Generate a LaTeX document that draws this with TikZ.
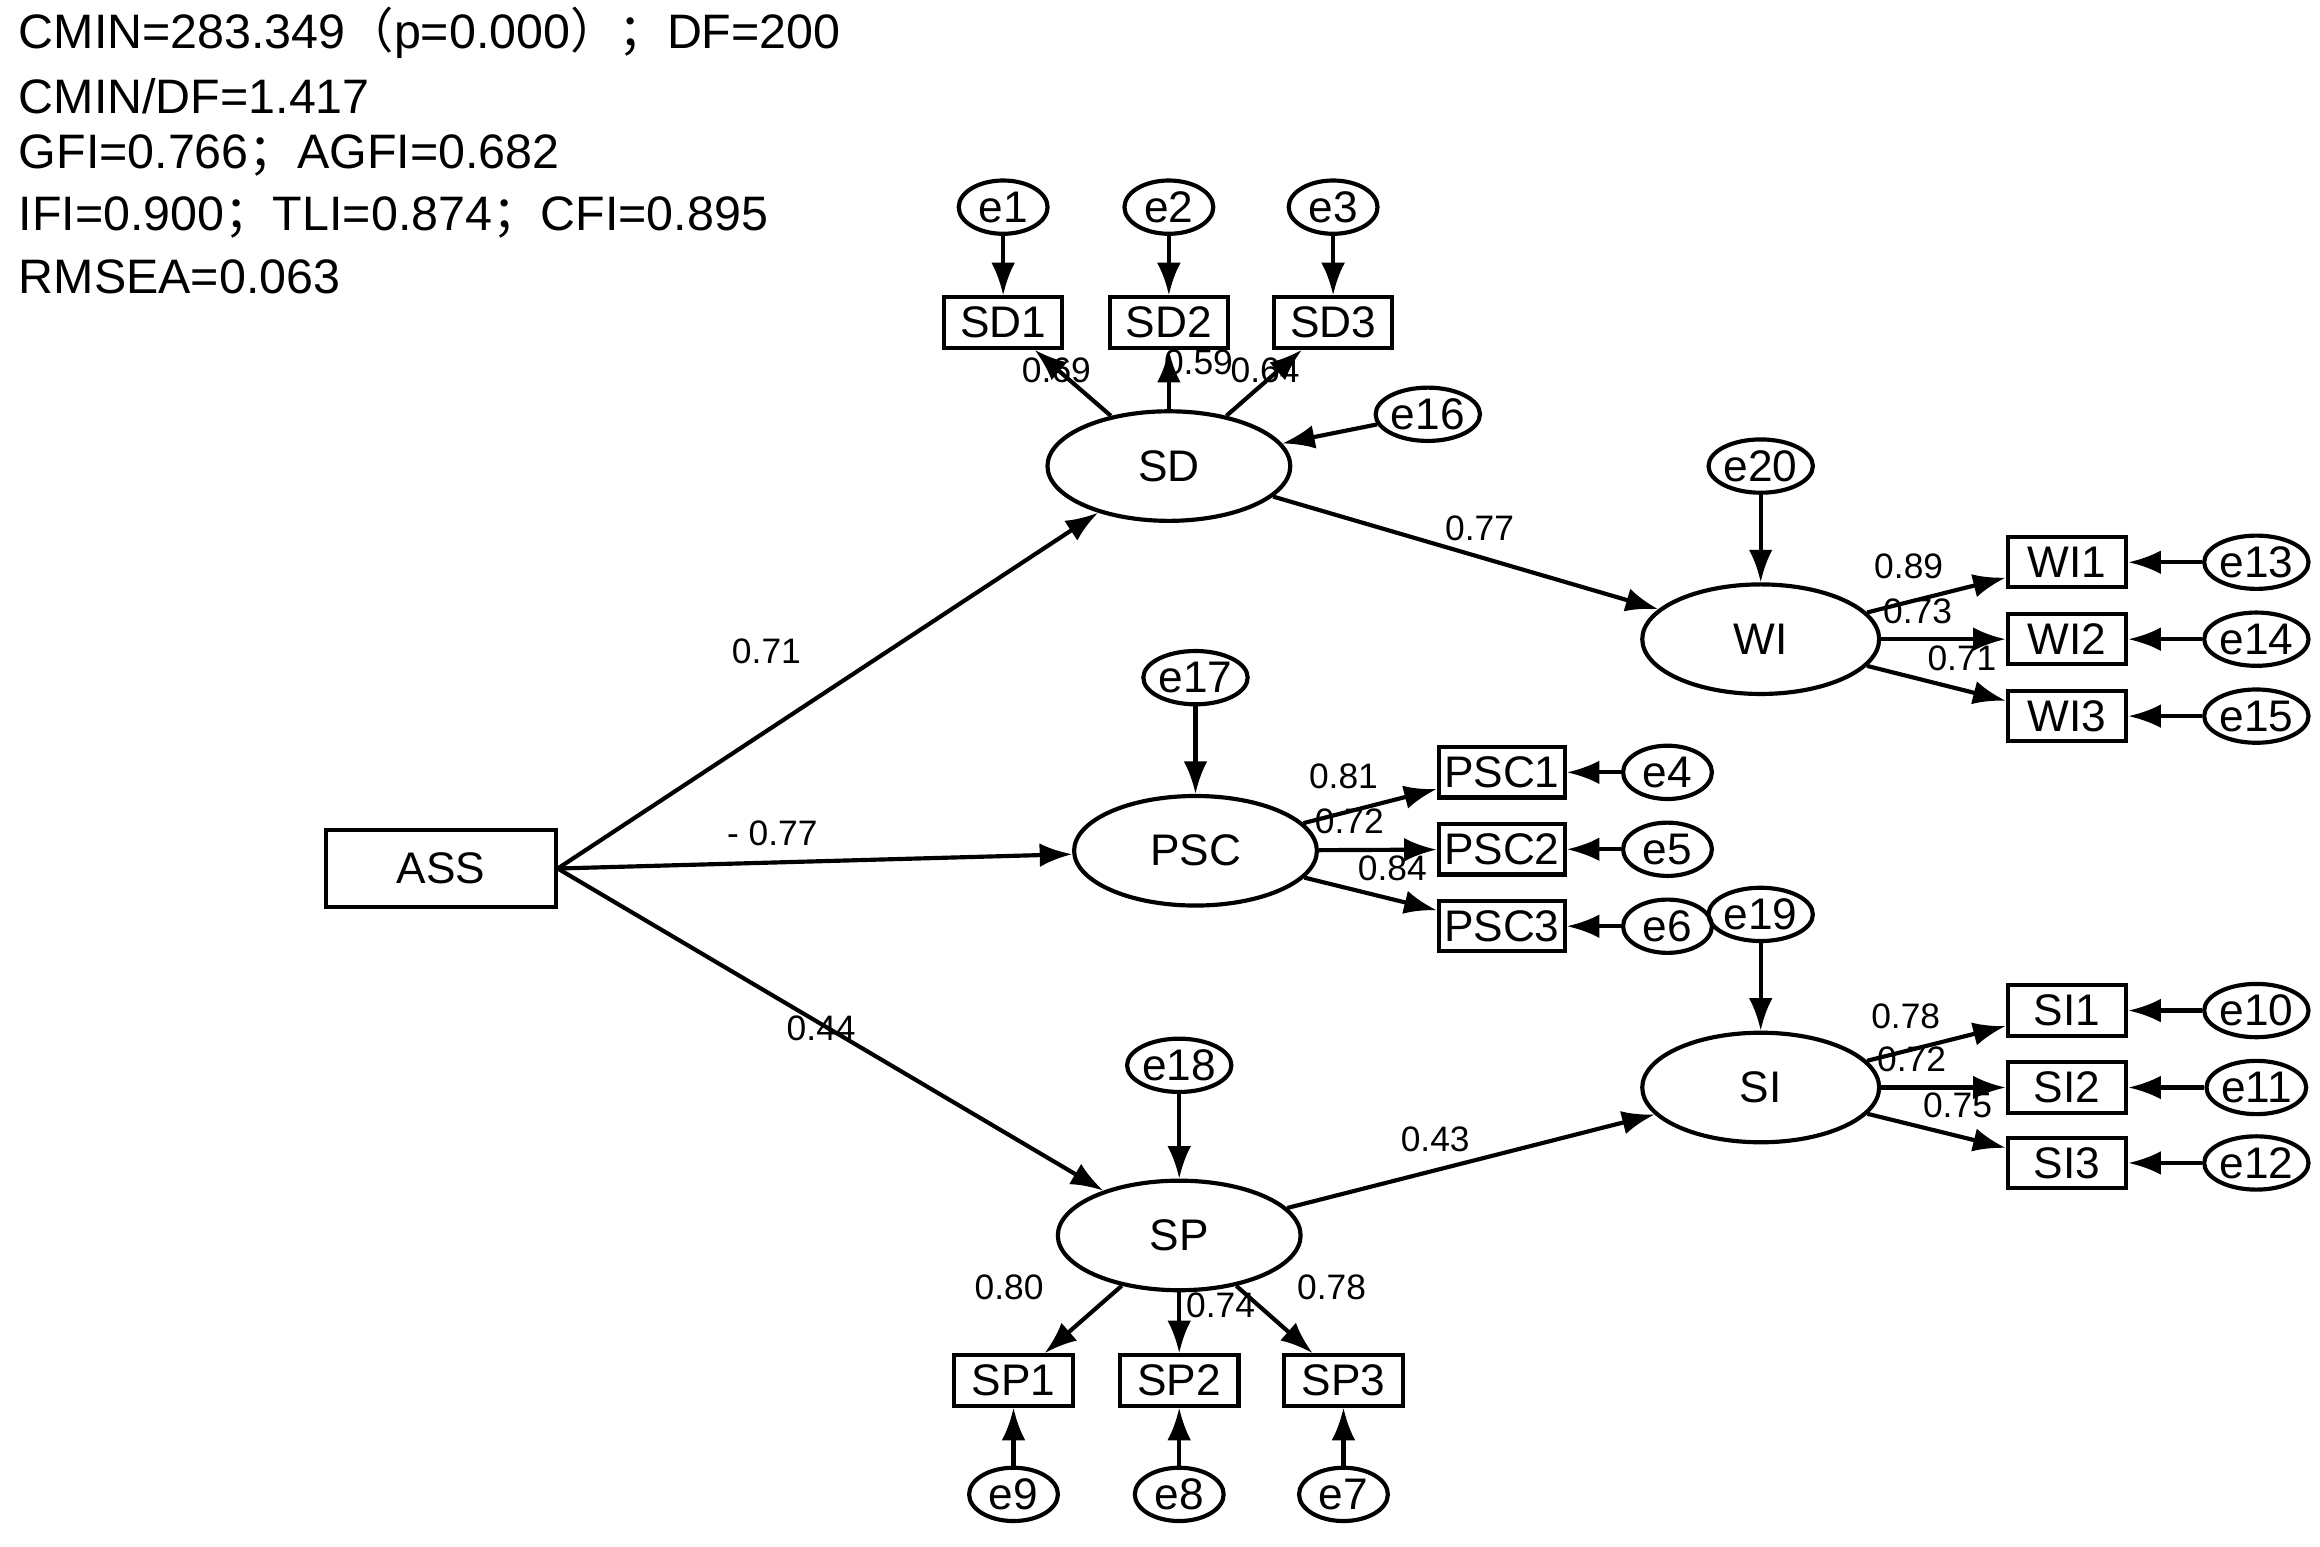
\documentclass[tikz,border=0pt]{standalone}
\usepackage{fontspec}
\setmainfont{Liberation Sans}
\newfontfamily\cjk{Noto Sans CJK SC}
\usetikzlibrary{shapes.geometric,arrows.meta}
\begin{document}
\begin{tikzpicture}[x=0.01cm,y=-0.01cm,
  lat/.style={draw,ellipse,line width=0.8pt,minimum width=1.64cm,minimum height=0.74cm,inner sep=0pt,font=\fontsize{8.5}{10}\selectfont},
  lw/.style={lat,minimum width=1.6cm},
  obs/.style={draw,rectangle,line width=0.8pt,minimum width=0.8cm,minimum height=0.34cm,inner sep=1pt,font=\fontsize{8.5}{10}\selectfont},
  err/.style={draw,ellipse,line width=0.8pt,minimum width=0.6cm,minimum height=0.36cm,inner sep=0pt,font=\fontsize{8.5}{10}\selectfont},
  arr/.style={-{Latex[length=0.22cm,width=0.16cm]},line width=0.8pt},
  lab/.style={font=\fontsize{6.8}{8}\selectfont,inner sep=0pt},
  hdr/.style={anchor=west,font=\fontsize{9.3}{11}\selectfont,inner sep=0pt}]
\useasboundingbox (0,0) rectangle (1568,1045);
\node[hdr] (h1) at (12,22) {CMIN=283.349{\cjk （}p=0.000{\cjk ）；}DF=200};
\node[hdr] (h2) at (12,65) {CMIN/DF=1.417};
\node[hdr] (h3) at (12,105) {GFI=0.766{\cjk ；}AGFI=0.682};
\node[hdr] (h4) at (12,147) {IFI=0.900{\cjk ；}TLI=0.874{\cjk ；}CFI=0.895};
\node[hdr] (h5) at (12,187) {RMSEA=0.063};

\node[obs,minimum width=1.55cm,minimum height=0.52cm] (ASS) at (298,587) {ASS};
\node[lat] (SD) at (790,315) {SD};
\node[lat] (PSC) at (808,575) {PSC};
\node[lat] (SP) at (797,835) {SP};
\node[lw] (WI) at (1190,432) {WI};
\node[lw] (SI) at (1190,735) {SI};

\foreach \n/\x in {1/678,2/790,3/901}{
  \node[obs] (SD\n) at (\x,218) {SD\n};
  \node[err] (e\n) at (\x,140) {e\n};
  \draw[arr] (e\n) -- (SD\n);
  \draw[arr] (SD) -- (SD\n);}
\foreach \n/\x/\e in {1/685/9,2/797/8,3/908/7}{
  \node[obs] (SP\n) at (\x,933) {SP\n};
  \node[err] (e\e) at (\x,1010) {e\e};
  \draw[arr] (e\e) -- (SP\n);
  \draw[arr] (SP) -- (SP\n);}
\foreach \n/\y/\e in {1/522/4,2/574/5,3/626/6}{
  \node[obs] (PSC\n) at (1015,\y) {PSC\n};
  \node[err] (e\e) at (1127,\y) {e\e};
  \draw[arr] (e\e) -- (PSC\n);
  \draw[arr] (PSC) -- (PSC\n);}
\foreach \n/\y/\e in {1/380/13,2/432/14,3/484/15}{
  \node[obs] (WI\n) at (1397,\y) {WI\n};
  \node[err] (e\e) at (1525,\y) {e\e};
  \draw[arr] (e\e) -- (WI\n);
  \draw[arr] (WI) -- (WI\n);}
\foreach \n/\y/\e in {1/683/10,2/735/11,3/786/12}{
  \node[obs] (SI\n) at (1397,\y) {SI\n};
  \node[err] (e\e) at (1525,\y) {e\e};
  \draw[arr] (e\e) -- (SI\n);
  \draw[arr] (SI) -- (SI\n);}

\node[err] (e16) at (965,280) {e16};
\node[err] (e20) at (1190,315) {e20};
\node[err] (e17) at (808,458) {e17};
\node[err] (e19) at (1190,618) {e19};
\node[err] (e18) at (797,720) {e18};
\draw[arr] (e16) -- (SD);
\draw[arr] (e20) -- (WI);
\draw[arr] (e17) -- (PSC);
\draw[arr] (e19) -- (SI);
\draw[arr] (e18) -- (SP);

\draw[arr] (ASS.east) -- (SD);
\draw[arr] (ASS.east) -- (PSC);
\draw[arr] (ASS.east) -- (SP);
\draw[arr] (SD) -- (WI);
\draw[arr] (SP) -- (SI);

\node[lab] (l1) at (518,440) {0.71};
\node[lab] (l2) at (522,563) {- 0.77};
\node[lab] (l3) at (555,695) {0.44};
\node[lab] (l4) at (1000,357) {0.77};
\node[lab] (l5) at (970,770) {0.43};
\node[lab] (l6) at (714,250) {0.69};
\node[lab] (l7) at (810,245) {0.59};
\node[lab] (l8) at (855,250) {0.64};
\node[lab] (l9) at (1290,383) {0.89};
\node[lab] (l10) at (1296,413) {0.73};
\node[lab] (l11) at (1326,445) {0.71};
\node[lab] (l12) at (908,525) {0.81};
\node[lab] (l13) at (912,555) {0.72};
\node[lab] (l14) at (941,587) {0.84};
\node[lab] (l15) at (1288,687) {0.78};
\node[lab] (l16) at (1292,716) {0.72};
\node[lab] (l17) at (1323,747) {0.75};
\node[lab] (l18) at (682,870) {0.80};
\node[lab] (l19) at (825,882) {0.74};
\node[lab] (l20) at (900,870) {0.78};
\end{tikzpicture}
\end{document}
